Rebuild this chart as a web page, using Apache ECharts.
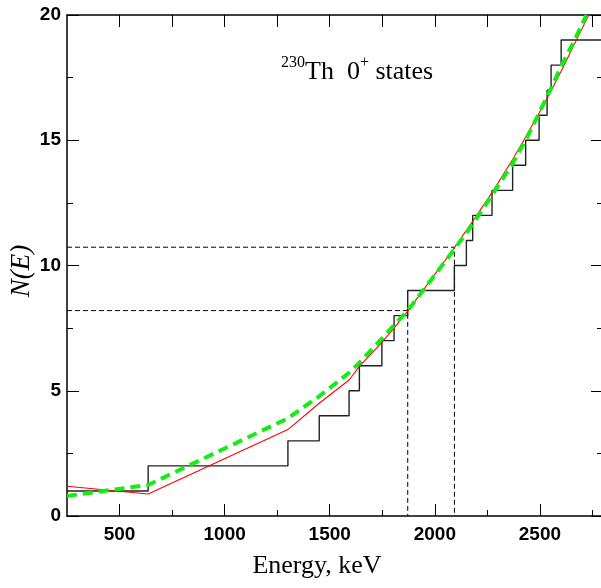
<!DOCTYPE html>
<html>
<head>
<meta charset="utf-8">
<script src="https://cdn.jsdelivr.net/npm/echarts@6/dist/echarts.min.js"></script>
<style>html,body{margin:0;padding:0;background:#fff}#c{width:601px;height:588px}</style>
</head>
<body>
<div id="c"></div>
<script>
// ---- data ----
const xMin = 250, xMax = 2800;
const yMin = 0, yMax = 20;
const xLabelTicks = [500, 1000, 1500, 2000, 2500];
const xMinorTicks = [750, 1250, 1750, 2250, 2750];
const topTicks = [500, 750, 1000, 1250, 1500, 1750, 2000, 2250, 2500, 2750];
// energies of the 0+ states (steps of the staircase), count at left edge = 1
const stepEnergies = [636, 1301, 1450, 1592, 1641, 1748, 1806, 1871, 2093, 2150, 2180, 2272, 2370, 2432, 2496, 2534, 2553, 2601];
const startCount = 1;
// red fit
const redE = [250, 636, 1301, 1450, 1592, 1641, 1748, 1806, 1871, 2093, 2150, 2180, 2272, 2370, 2432, 2496, 2534, 2553, 2601, 2732];
const redN = [1.19, 0.88, 3.45, 4.50, 5.43, 5.97, 6.93, 7.50, 8.18, 10.71, 11.40, 11.76, 12.91, 14.23, 15.13, 16.09, 16.68, 16.98, 17.75, 20.0];
// green dashed fit
const greenE = [250, 636, 1301, 1450, 1592, 1641, 1748, 1806, 1871, 2093, 2150, 2180, 2272, 2370, 2432, 2496, 2534, 2553, 2601, 2665, 2721];
const greenN = [0.80, 1.24, 3.90, 4.78, 5.72, 6.12, 7.08, 7.62, 8.20, 10.65, 11.30, 11.65, 12.80, 14.08, 15.00, 16.08, 16.75, 17.08, 17.95, 19.0, 20.0];
// dashed reference lines
const refE = [1871, 2093];
const refN = [8.2, 10.73];

// ---- build ----
const stairs = [[xMin, startCount]];
stepEnergies.forEach((e, i) => stairs.push([e, startCount + i + 1]));
stairs.push([xMax, startCount + stepEnergies.length]);
const red = redE.map((e, i) => [e, redN[i]]);
const green = greenE.map((e, i) => [e, greenN[i]]);
const refSeries = refE.map((e, i) => ({
  type: 'line', xAxisIndex: 0, yAxisIndex: 0, symbol: 'none', silent: true,
  data: [[xMin, refN[i]], [e, refN[i]], [e, yMin]],
  lineStyle: { color: '#000', width: 1, type: [5, 3] }, z: 2
}));

const labelFont = { fontFamily: 'Liberation Sans', fontWeight: 'bold', fontSize: 19, color: '#000' };
const plain = v => String(v);
const serifItalic = { fontFamily: 'Liberation Serif', fontStyle: 'italic', fontSize: 27, fill: '#000' };
const chart = echarts.init(document.getElementById('c'), null, { renderer: 'canvas' });
chart.setOption({
  animation: false,
  backgroundColor: '#fff',
  grid: { left: 67, right: -2, top: 15, bottom: 72, containLabel: false, outerBoundsMode: 'none' },
  xAxis: [
    { type: 'value', position: 'bottom', min: xMin, max: xMax,
      name: 'Energy, keV', nameLocation: 'middle', nameGap: 37,
      nameTextStyle: { fontFamily: 'Liberation Serif', fontSize: 26, color: '#000', padding: [0, 36, 0, 0] },
      axisLine: { onZero: false, lineStyle: { color: '#000', width: 1.5 } },
      axisTick: { inside: true, length: 12, customValues: xLabelTicks, lineStyle: { color: '#000', width: 1 } },
      axisLabel: Object.assign({ margin: 9, customValues: xLabelTicks, formatter: plain }, labelFont),
      splitLine: { show: false } },
    { type: 'value', position: 'bottom', min: xMin, max: xMax,
      axisLine: { show: false },
      axisTick: { inside: true, length: 6, customValues: xMinorTicks, lineStyle: { color: '#000', width: 1 } },
      axisLabel: { show: false }, splitLine: { show: false } },
    { type: 'value', position: 'top', min: xMin, max: xMax,
      axisLine: { onZero: false, lineStyle: { color: '#000', width: 1.5 } },
      axisTick: { inside: true, length: 12, customValues: topTicks, lineStyle: { color: '#000', width: 1 } },
      axisLabel: { show: false }, splitLine: { show: false } }
  ],
  yAxis: [
    { type: 'value', position: 'left', min: yMin, max: yMax, interval: 5,
      axisLine: { onZero: false, lineStyle: { color: '#000', width: 1.5 } },
      axisTick: { inside: true, length: 12, lineStyle: { color: '#000', width: 1 } },
      minorTick: { show: true, splitNumber: 2, length: 6, lineStyle: { color: '#000', width: 1 } },
      axisLabel: Object.assign({ margin: 6, formatter: plain }, labelFont),
      splitLine: { show: false } },
    { type: 'value', position: 'right', min: yMin, max: yMax, interval: 5,
      axisLine: { onZero: false, lineStyle: { color: '#000', width: 1.5 } },
      axisTick: { inside: true, length: 12, lineStyle: { color: '#000', width: 1 } },
      minorTick: { show: true, splitNumber: 2, length: 6, lineStyle: { color: '#000', width: 1 } },
      axisLabel: { show: false }, splitLine: { show: false } }
  ],
  graphic: [{
    type: 'text', left: 281, top: 55, z: 10,
    style: {
      text: '{s|230}{n|Th  0}{s|+}{n| states}',
      rich: {
        n: { fontFamily: 'Liberation Serif', fontSize: 26, lineHeight: 30, verticalAlign: 'bottom', fill: '#000' },
        s: { fontFamily: 'Liberation Serif', fontSize: 16, lineHeight: 8, verticalAlign: 'top', fill: '#000' }
      }
    }
  }, {
    type: 'text', x: 22, y: 271, rotation: Math.PI / 2, z: 10,
    style: Object.assign({ text: 'N(E)', align: 'center', verticalAlign: 'middle' }, serifItalic)
  }],
  series: [
    ...refSeries,
    { type: 'line', step: 'end', symbol: 'none', data: stairs, silent: true,
      lineStyle: { color: '#222', width: 1.4 }, z: 3 },
    { type: 'line', symbol: 'none', data: red, silent: true,
      lineStyle: { color: '#ff0000', width: 1.1 }, z: 4 },
    { type: 'line', symbol: 'none', data: green, silent: true,
      lineStyle: { color: '#11ee11', width: 4, type: [10, 6] }, z: 5 }
  ]
});
</script>
</body>
</html>
